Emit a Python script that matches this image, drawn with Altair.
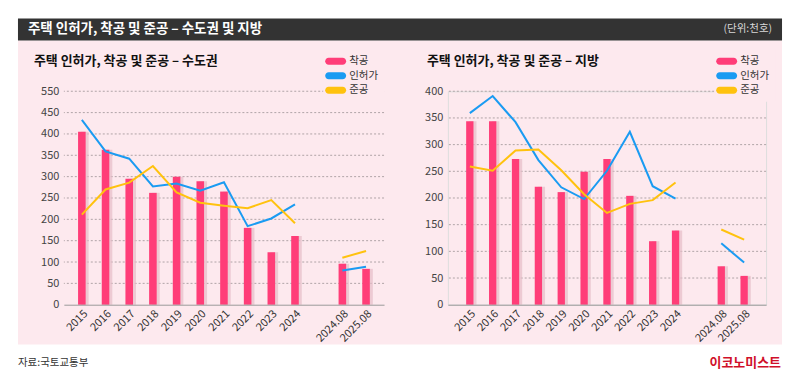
import altair as alt
import pandas as pd

# ---------------- data ----------------
categories = ["2015", "2016", "2017", "2018", "2019", "2020", "2021", "2022", "2023", "2024",
              " ", "2024.08", "2025.08"]
periods = ["2015", "2016", "2017", "2018", "2019", "2020", "2021", "2022", "2023", "2024",
           "2024.08", "2025.08"]
groups = ["연간"] * 10 + ["8월누계"] * 2

series_names = ["착공", "인허가", "준공"]
series_colors = ["#ff3d78", "#1a9bf2", "#ffc20e"]

metro_start = [405, 363, 295, 262, 300, 289, 265, 180, 123, 161, 96, 84]
metro_permit = [433, 359, 342, 277, 284, 267, 287, 184, 202, 235, 80, 89]
metro_done = [211, 270, 286, 325, 263, 239, 232, 226, 245, 191, 110, 126]

local_start = [344, 344, 273, 221, 211, 249, 273, 204, 119, 139, 72, 54]
local_permit = [359, 391, 342, 271, 220, 198, 251, 324, 222, 199, 115, 79]
local_done = [259, 251, 289, 291, 252, 207, 172, 189, 196, 229, 141, 122]

metro_ticks = [0, 50, 100, 150, 200, 250, 300, 350, 400, 450, 500]
metro_tick_labels = ["0", "50", "100", "150", "200", "250", "300", "350", "400", "450", "550"]
local_ticks = [0, 50, 100, 150, 200, 250, 300, 350, 400]
local_tick_labels = ["0", "50", "100", "150", "200", "250", "300", "350", "400"]

main_title = ["주택 인허가, 착공 및 준공 – 수도권 및 지방"]
unit_text = ["(단위:천호)"]
metro_title = ["주택 인허가, 착공 및 준공 – 수도권"]
local_title = ["주택 인허가, 착공 및 준공 – 지방"]
source_text = ["자료:국토교통부"]
logo_text = ["이코노미스트"]

PINK_BG = "#fde9ee"
DARK = "#333333"
FONT = "Noto Sans CJK KR"

# pill symbol, wider than its symbol box
PILL = ("M-1.077,-0.538 L1.077,-0.538 A0.538,0.538 0 0 1 1.077,0.538 "
        "L-1.077,0.538 A0.538,0.538 0 0 1 -1.077,-0.538 Z")


def label_expr(ticks, labels):
    expr = "datum.label"
    for v, l in zip(ticks, labels):
        if str(v) != l:
            expr = f"datum.value == {v} ? '{l}' : ({expr})"
    return expr


def text_layer(texts, x, y, size, color, weight="normal", align="left"):
    return alt.Chart(pd.DataFrame({"t": texts})).mark_text(
        align=align, baseline="middle", fontSize=size, color=color,
        fontWeight=weight, font=FONT
    ).encode(x=alt.value(x), y=alt.value(y), text="t:N")


def panel(title, start, permit, done, ticks, tick_labels, width, pad_outer,
          title_x, legend_x, extra_layers):
    height = 214
    df = pd.DataFrame({"period": periods, "grp": groups, "series": series_names[0],
                       "start": start, "permit": permit, "done": done})
    xs = alt.Scale(domain=categories, paddingInner=0.68, paddingOuter=pad_outer)
    xax = alt.Axis(title=None, labelAngle=315, ticks=False, domainColor="#9a9a9a",
                   labelFontSize=11, labelColor="#333333", labelPadding=3,
                   labelFont=FONT, zindex=1)
    ys = alt.Scale(domain=[0, ticks[-1]], nice=False)
    yax = alt.Axis(title=None, values=ticks, grid=False, domain=False, ticks=False,
                   labelFontSize=11, labelColor="#444444", labelPadding=5,
                   labelFont=FONT, labelExpr=label_expr(ticks, tick_labels), zindex=1)
    X = alt.X("period:N", scale=xs, axis=xax)

    base = alt.Chart(df)
    grid = alt.Chart(pd.DataFrame({"v": ticks[1:]})).mark_rule(
        color="#b0a4a7", strokeDash=[2, 2], strokeWidth=1
    ).encode(y=alt.Y("v:Q", scale=ys, axis=yax))
    shadow = base.mark_bar(color="#e6bcc8", opacity=0.7, xOffset=3).encode(
        x=X, y=alt.Y("start:Q", scale=ys, axis=yax))
    bars = base.mark_bar().encode(
        x=X, y=alt.Y("start:Q", scale=ys, axis=yax),
        color=alt.Color("series:N",
                        scale=alt.Scale(domain=series_names, range=series_colors),
                        legend=alt.Legend(title=None, orient="none", legendX=legend_x,
                                          legendY=-42.5, symbolType=PILL, symbolSize=169,
                                          symbolStrokeWidth=0, labelFontSize=10.5,
                                          labelColor="#333333", labelFont=FONT,
                                          fillColor=PINK_BG, padding=6, rowPadding=2.5,
                                          labelOffset=7)))
    permit_line = base.mark_line(color=series_colors[1], strokeWidth=2).encode(
        x=X, y=alt.Y("permit:Q", scale=ys, axis=yax), detail="grp:N")
    done_line = base.mark_line(color=series_colors[2], strokeWidth=2).encode(
        x=X, y=alt.Y("done:Q", scale=ys, axis=yax), detail="grp:N")
    ttl = text_layer(title, title_x, -30, 13, "#111111", weight="bold")
    return alt.layer(*extra_layers, ttl, grid, shadow, bars, permit_line, done_line).properties(
        width=width, height=height)


# decorations drawn in the left panel (relative to its plot origin)
bg = alt.Chart(pd.DataFrame({"a": [0]})).mark_rect(color=PINK_BG).encode(
    x=alt.value(-46), x2=alt.value(720), y=alt.value(-51), y2=alt.value(254))
header = alt.Chart(pd.DataFrame({"a": [0]})).mark_rect(color=DARK).encode(
    x=alt.value(-46), x2=alt.value(720), y=alt.value(-73), y2=alt.value(-51))
deco = [
    bg, header,
    text_layer(main_title, -36, -62, 13.5, "#ffffff", weight="bold"),
    text_layer(unit_text, 710, -62, 10.5, "#d8d8d8", align="right"),
    text_layer(source_text, -46, 272, 10.5, "#333333"),
    text_layer(logo_text, 719, 272, 13, "#d0102a", weight="bold", align="right"),
]

left = panel(metro_title, metro_start, metro_permit, metro_done, metro_ticks,
             metro_tick_labels, 321, 0.6, -30, 260, deco)
right = panel(local_title, local_start, local_permit, local_done, local_ticks,
              local_tick_labels, 319, 0.8, -21, 267, [])

chart = alt.hconcat(left, right, spacing=64, bounds="flush").resolve_scale(
    x="independent", y="independent", color="independent"
).resolve_legend(color="independent").properties(
    padding={"left": 9, "top": 9, "right": 9, "bottom": 5}
).configure_view(stroke=None).configure(background="white", font=FONT)

chart.save("out.html", embed_options={"renderer": "svg", "actions": False})
